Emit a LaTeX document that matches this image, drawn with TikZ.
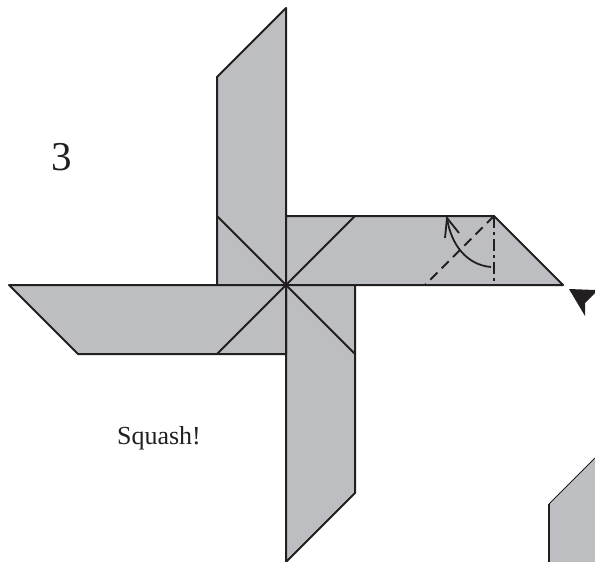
\documentclass[tikz,border=0pt]{standalone}
\usepackage{fontspec}
\setmainfont{Liberation Serif}
\definecolor{paper}{RGB}{189,190,193}
\definecolor{ink}{RGB}{35,31,32}
\tikzset{
  x=1pt,y=-1pt,
  flap/.style={fill=paper,draw=ink,line width=2pt,line join=round},
  crease/.style={draw=ink,line width=1.8pt},
  valley/.style={draw=ink,line width=1.8pt,dash pattern=on 10pt off 6pt},
  mountain/.style={draw=ink,line width=1.8pt,dash pattern=on 12pt off 4pt on 3pt off 4pt},
  foldarrow/.style={draw=ink,line width=1.8pt},
  lbl/.style={inner sep=0pt,text=ink,anchor=base}
}
\begin{document}
\begin{tikzpicture}
\useasboundingbox (0,0) rectangle (595,562);
\clip (0,0) rectangle (595,562);
\coordinate (c) at (286,285);
\coordinate (nw) at (217,216);
\coordinate (se) at (355,354);
\coordinate (sw) at (217,354);
\coordinate (ne) at (355,216);
\coordinate (peak) at (494,216);
\coordinate (dashend) at (425,285);
\coordinate (mtend) at (494,285);
\coordinate (arcs) at (491,267);
\coordinate (arce) at (447,218);
% flaps
\path[flap] (217,285) -- (217,77) -- (286,8) -- (286,285) -- cycle;
\path[flap] (286,216) -- (peak) -- (563,285) -- (286,285) -- cycle;
\path[flap] (355,285) -- (355,493) -- (286,562) -- (286,285) -- cycle;
\path[flap] (286,354) -- (78,354) -- (9,285) -- (286,285) -- cycle;
% creases
\draw[crease] (nw) -- (se);
\draw[crease] (sw) -- (ne);
% folds
\draw[valley] (peak) -- (dashend);
\draw[mountain] (peak) -- (mtend);
\draw[foldarrow] (arcs) .. controls (467,265) and (451,245) .. (arce);
\draw[foldarrow] (445,238) -- (arce) -- (459,233);
% push arrow
\fill[ink] (569,289) -- (595,290) -- (595,293) -- (585,303) -- (585,316) -- cycle;
% next step piece
\fill[paper] (549,562) -- (549,504) -- (595,458) -- (595,562) -- cycle;
\draw[ink,line width=2pt] (549,562) -- (549,504);
\draw[ink,line width=1pt] (549,504) -- (595,458);
% labels
\node[lbl,font=\fontsize{41}{41}\selectfont] (step) at (62,170) {3};
\node[lbl,font=\fontsize{26}{26}\selectfont] (say) at (159,444) {Squash!};
\end{tikzpicture}
\end{document}
